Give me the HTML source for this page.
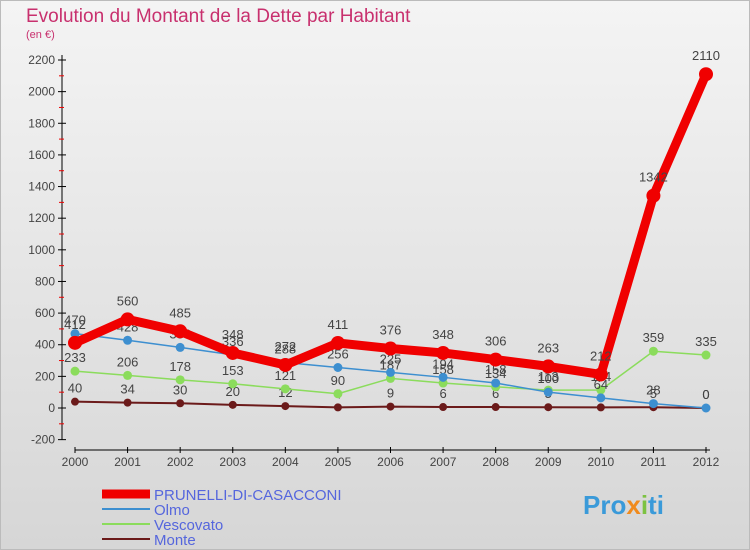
<!DOCTYPE html>
<html><head><meta charset="utf-8"><style>
body{margin:0;width:750px;height:550px;overflow:hidden;font-family:"Liberation Sans",sans-serif}
#c{position:absolute;left:0;top:0}
</style></head><body>
<svg id="c" width="750" height="550">
<defs><linearGradient id="bg" x1="0" y1="0" x2="0" y2="1"><stop offset="0" stop-color="#f4f4f4"/><stop offset="1" stop-color="#d6d6d6"/></linearGradient></defs>
<rect width="750" height="550" fill="url(#bg)"/>
<rect x="0.5" y="0.5" width="749" height="549" fill="none" stroke="#bbb"/>
<text x="26" y="22" font-size="19" fill="#c8306e">Evolution du Montant de la Dette par Habitant</text>
<text x="26" y="38" font-size="11" fill="#c8306e">(en €)</text>
<g id="axes"></g><g id="series"></g><g id="legend"></g>
<text x="583" y="514" font-size="26" font-weight="bold" fill="#3a9ad9">Pro<tspan fill="#f08a1c">x</tspan><tspan fill="#7cc242">i</tspan>ti</text>
</svg>
<script>
const years=[2000,2001,2002,2003,2004,2005,2006,2007,2008,2009,2010,2011,2012];
const yTicks=[-200,0,200,400,600,800,1000,1200,1400,1600,1800,2000,2200];
const prunelli=[412,560,485,348,272,411,376,348,306,263,212,1342,2110];
const olmo=[470,428,383,336,288,256,225,194,158,100,64,28,0];
const vescovato=[233,206,178,153,121,90,187,158,134,113,114,359,335];
const monte=[40,34,30,20,12,4,9,6,6,5,4,5,0];
const NS="http://www.w3.org/2000/svg";
const x=i=>75+i*(706-75)/12;
const y=v=>408-v*(408-60)/2200;
function el(t,a,p){const e=document.createElementNS(NS,t);for(const k in a)e.setAttribute(k,a[k]);p.appendChild(e);return e;}
const ax=document.getElementById('axes');
let l=el('line',{x1:62,y1:55,x2:62,y2:y(-200),stroke:'#000'},ax);


l=el('line',{x1:75,y1:450,x2:710,y2:450,stroke:'#000'},ax);


yTicks.forEach(v=>{
 el('line',{x1:58,y1:y(v),x2:66,y2:y(v),stroke:'#000'},ax);
 if(v<2200) el('line',{x1:59,y1:y(v+100),x2:64,y2:y(v+100),stroke:'#e00'},ax);
 const t=el('text',{x:55,y:y(v)+4,'font-size':12,'text-anchor':'end',fill:'#444'},ax);t.textContent=v;
 
 
});
years.forEach((yr,i)=>{
 el('line',{x1:x(i),y1:447,x2:x(i),y2:453,stroke:'#000'},ax);
 const t=el('text',{x:x(i),y:466,'font-size':12,'text-anchor':'middle',fill:'#444'},ax);t.textContent=yr;
 
 
});
const S=[
 {d:monte,c:'#6b1a1a',w:2,r:4,n:'monte'},
 {d:vescovato,c:'#8bdc5c',w:1.5,r:4.5,n:'vescovato'},
 {d:olmo,c:'#3d8fd0',w:1.5,r:4.5,n:'olmo'},
 {d:prunelli,c:'#f00000',w:9,r:7,n:'prunelli'}];
const sg=document.getElementById('series');
S.forEach(s=>{
 const p=el('polyline',{points:s.d.map((v,i)=>x(i)+','+y(v)).join(' '),fill:'none',stroke:s.c,'stroke-width':s.w,'stroke-linejoin':'round'},sg);
 
 
 s.d.forEach((v,i)=>{
  const c=el('circle',{cx:x(i),cy:y(v),r:s.r,fill:s.c},sg);
  
  
  const t=el('text',{x:x(i),y:y(v)-(s.n==='prunelli'?14:9),'font-size':13,'text-anchor':'middle',fill:'#444'},sg);t.textContent=v;
  
  
 });
});
const lg=document.getElementById('legend');
[['PRUNELLI-DI-CASACCONI','#f00000',9],['Olmo','#3d8fd0',2],['Vescovato','#8bdc5c',2],['Monte','#6b1a1a',2]].forEach((e,i)=>{
 const yy=494+i*15;
 const ln=el('line',{x1:102,y1:yy,x2:150,y2:yy,stroke:e[1],'stroke-width':e[2]},lg);
 
 
 const t=el('text',{x:154,y:yy+6,'font-size':15,fill:'#5566dd'},lg);t.textContent=e[0];
 
 
});
</script>
</body></html>
